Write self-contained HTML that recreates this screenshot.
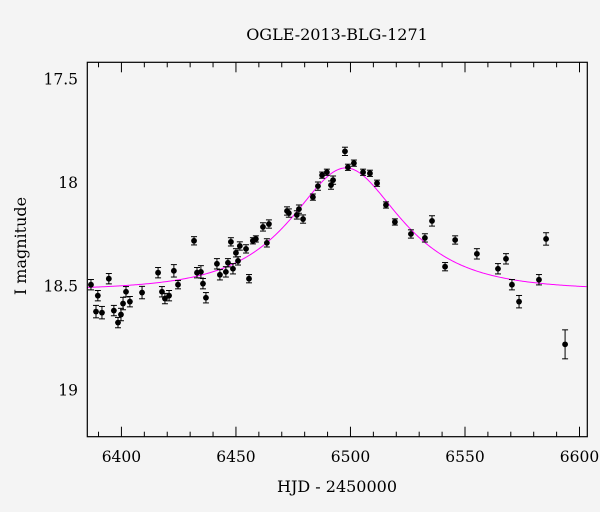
<!DOCTYPE html>
<html><head><meta charset="utf-8"><style>
html,body{margin:0;padding:0;background:#f4f4f4;}
svg{display:block;font-family:"DejaVu Serif","Liberation Serif",serif;}
</style></head><body>
<svg id="chart" width="600" height="512" viewBox="0 0 600 512">
<rect x="0" y="0" width="600" height="512" fill="#f4f4f4"/>
<text x="337" y="40" font-size="16" text-anchor="middle" fill="#000">OGLE-2013-BLG-1271</text>
<text x="337" y="492" font-size="16" text-anchor="middle" fill="#000">HJD - 2450000</text>
<text x="0" y="0" transform="translate(26,246) rotate(-90)" font-size="16" text-anchor="middle" fill="#000">I magnitude</text>
<g id="ticks"></g>
<g id="model"></g>
<g id="points"></g>
<rect x="87.3" y="62.3" width="500" height="374.4" fill="none" stroke="#000" stroke-width="1.2"/>
</svg>
<script>
const days=[6386.7,6388.9,6389.7,6391.5,6394.5,6396.7,6398.5,6399.8,6400.7,6402.0,6403.7,6409.0,6416.0,6417.7,6419.0,6420.8,6422.9,6424.7,6431.7,6433.0,6434.7,6435.6,6436.9,6441.7,6443.0,6445.6,6446.5,6447.8,6448.7,6450.0,6450.9,6451.7,6454.4,6455.7,6457.4,6458.7,6461.8,6463.5,6464.4,6472.3,6473.1,6476.6,6477.5,6479.3,6483.6,6485.8,6487.6,6489.7,6491.5,6492.4,6497.6,6498.9,6501.5,6505.5,6508.5,6511.6,6515.5,6519.4,6526.4,6532.5,6535.6,6541.3,6545.7,6555.2,6564.4,6567.9,6570.5,6573.6,6582.3,6585.4,6593.7];
const mags=[18.495,18.625,18.548,18.630,18.466,18.620,18.678,18.639,18.586,18.529,18.577,18.533,18.437,18.529,18.562,18.548,18.428,18.495,18.283,18.437,18.433,18.490,18.558,18.394,18.447,18.433,18.389,18.288,18.418,18.341,18.380,18.308,18.322,18.466,18.283,18.274,18.216,18.293,18.202,18.139,18.149,18.158,18.130,18.178,18.072,18.019,17.966,17.952,18.014,17.990,17.851,17.928,17.908,17.952,17.957,18.005,18.110,18.192,18.250,18.269,18.187,18.408,18.279,18.346,18.418,18.370,18.495,18.577,18.471,18.274,18.783];
const errs=[0.025,0.03,0.025,0.03,0.025,0.025,0.025,0.03,0.03,0.025,0.025,0.03,0.025,0.025,0.025,0.025,0.03,0.02,0.02,0.025,0.03,0.025,0.025,0.025,0.025,0.025,0.02,0.02,0.025,0.02,0.02,0.02,0.02,0.02,0.015,0.015,0.02,0.02,0.02,0.02,0.02,0.02,0.02,0.02,0.015,0.02,0.015,0.015,0.02,0.02,0.02,0.015,0.015,0.015,0.015,0.015,0.015,0.015,0.02,0.02,0.025,0.02,0.02,0.025,0.025,0.025,0.025,0.03,0.025,0.03,0.07];
const xTicks=[6400,6450,6500,6550,6600];
const yTicks=[17.5,18,18.5,19];
const model={I0:18.522,t0:6498,tE:35.5,u0:0.675};

const NS="http://www.w3.org/2000/svg";
const L=87.3,R=587.3,T=62.3,B=436.7;
const X0=6385.1,X1=6603.4,Y0=17.421,Y1=19.229;
function sx(d){return L+(d-X0)/(X1-X0)*(R-L);}
function sy(m){return T+(m-Y0)/(Y1-Y0)*(B-T);}
function mk(tag,attrs,parent){const e=document.createElementNS(NS,tag);for(const k in attrs)e.setAttribute(k,attrs[k]);parent.appendChild(e);return e;}

const tg=document.getElementById('ticks');
for(let d=6390;d<=6600;d+=10){
  const major=d%50===0,len=major?10:5,x=sx(d);
  const t1=mk('line',{x1:x,x2:x,y1:B,y2:B-len,stroke:'#000','stroke-width':1},tg);
  
  
  const t2=mk('line',{x1:x,x2:x,y1:T,y2:T+len,stroke:'#000','stroke-width':1},tg);
  
  
}
xTicks.forEach(d=>{
  const t=mk('text',{x:sx(d),y:462,'font-size':15.5,'text-anchor':'middle',fill:'#000'},tg);
  t.textContent=String(d);
  
  
});
for(let i=5;i<=22;i++){
  const m=i/10,major=i%5===0,len=major?10:5,y=sy(m);
  if(y<T||y>B)continue;
  const t1=mk('line',{x1:L,x2:L+len,y1:y,y2:y,stroke:'#000','stroke-width':1},tg);
  
  
  const t2=mk('line',{x1:R,x2:R-len,y1:y,y2:y,stroke:'#000','stroke-width':1},tg);
  
  
}
yTicks.forEach(m=>{
  const t=mk('text',{x:78,y:sy(m)+6,'font-size':15.5,'text-anchor':'end',fill:'#000'},tg);
  t.textContent=String(m);
  
  
});

const mg=document.getElementById('model');
let pts=[];
for(let d=X0;d<=X1;d+=0.5){
  const tau=(d-model.t0)/model.tE,u=Math.sqrt(tau*tau+model.u0*model.u0);
  const A=(u*u+2)/(u*Math.sqrt(u*u+4));
  const m=model.I0-2.5*Math.log10(A);
  pts.push(sx(d).toFixed(2)+','+sy(m).toFixed(2));
}
const pl=mk('polyline',{points:pts.join(' '),fill:'none',stroke:'#ff00ff','stroke-width':1},mg);



const pg=document.getElementById('points');
days.forEach((d,i)=>{
  const x=sx(d),y=sy(mags[i]),e=errs[i];
  const ya=sy(mags[i]-e),yb=sy(mags[i]+e);
  const g=mk('g',{},pg);
  
  
  mk('line',{x1:x,x2:x,y1:ya,y2:yb,stroke:'#000','stroke-width':1},g);
  mk('line',{x1:x-3,x2:x+3,y1:ya,y2:ya,stroke:'#000','stroke-width':1},g);
  mk('line',{x1:x-3,x2:x+3,y1:yb,y2:yb,stroke:'#000','stroke-width':1},g);
  mk('circle',{cx:x,cy:y,r:2.9,fill:'#000'},g);
});
</script>
</body></html>
